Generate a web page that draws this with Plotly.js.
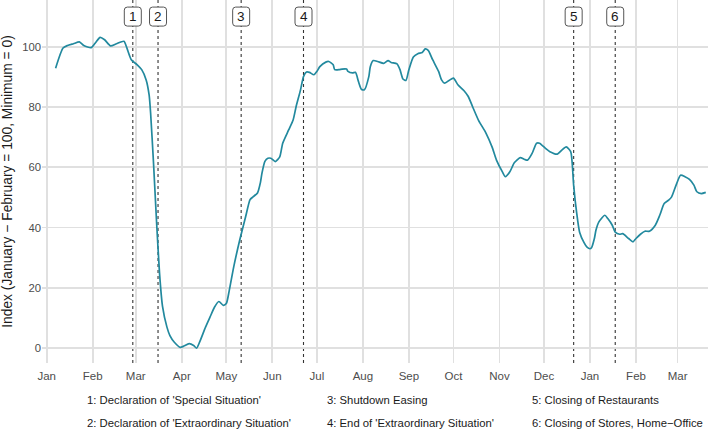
<!DOCTYPE html>
<html>
<head>
<meta charset="utf-8">
<script src="https://cdn.plot.ly/plotly-3.0.1.min.js"></script>
<style>
  html, body { margin: 0; padding: 0; background: #ffffff; }
  #chart { width: 708px; height: 429px; }
</style>
</head>
<body>
<div id="chart"></div>
<script>
// ---- Data ----
const dates = [
  '2020-01-07','2020-01-12','2020-01-15','2020-01-19','2020-01-23','2020-01-26','2020-01-31',
  '2020-02-03','2020-02-06','2020-02-09','2020-02-13','2020-02-17','2020-02-22','2020-02-24','2020-02-27',
  '2020-03-02','2020-03-05','2020-03-08','2020-03-10','2020-03-11','2020-03-13','2020-03-15','2020-03-17',
  '2020-03-19','2020-03-22','2020-03-24','2020-03-27','2020-03-31',
  '2020-04-02','2020-04-06','2020-04-09','2020-04-11','2020-04-13','2020-04-17','2020-04-20','2020-04-23',
  '2020-04-26','2020-04-29',
  '2020-05-01','2020-05-03','2020-05-06','2020-05-10','2020-05-14','2020-05-17','2020-05-19','2020-05-22',
  '2020-05-24','2020-05-25','2020-05-27','2020-05-29','2020-05-31',
  '2020-06-03','2020-06-06','2020-06-08','2020-06-12','2020-06-15','2020-06-17','2020-06-20','2020-06-22',
  '2020-06-24','2020-06-26','2020-06-29',
  '2020-07-01','2020-07-03','2020-07-07','2020-07-09','2020-07-12','2020-07-13','2020-07-16','2020-07-18',
  '2020-07-21','2020-07-22','2020-07-25','2020-07-27','2020-07-29','2020-07-31',
  '2020-08-02','2020-08-05','2020-08-06','2020-08-08','2020-08-11','2020-08-15','2020-08-18','2020-08-20',
  '2020-08-24','2020-08-26','2020-08-28','2020-08-30',
  '2020-09-01','2020-09-04','2020-09-07','2020-09-10','2020-09-12','2020-09-14','2020-09-17','2020-09-21',
  '2020-09-23','2020-09-25','2020-09-28',
  '2020-10-01','2020-10-04','2020-10-08','2020-10-11','2020-10-14','2020-10-18','2020-10-23','2020-10-27',
  '2020-10-30',
  '2020-11-03','2020-11-05','2020-11-08','2020-11-11','2020-11-15','2020-11-18','2020-11-20','2020-11-23',
  '2020-11-26','2020-11-28',
  '2020-12-02','2020-12-05','2020-12-10','2020-12-13','2020-12-16','2020-12-19','2020-12-20','2020-12-21',
  '2020-12-23','2020-12-25','2020-12-28','2020-12-30',
  '2021-01-01','2021-01-02','2021-01-04','2021-01-05','2021-01-07','2021-01-11','2021-01-13','2021-01-16',
  '2021-01-18','2021-01-21','2021-01-23','2021-01-27','2021-01-30',
  '2021-02-01','2021-02-04','2021-02-07','2021-02-10','2021-02-14','2021-02-17','2021-02-20','2021-02-23',
  '2021-02-25','2021-02-28',
  '2021-03-03','2021-03-06','2021-03-09','2021-03-12','2021-03-14','2021-03-17','2021-03-20'
];
const indexValues = [
  92.9, 99.6, 100.4, 101.0, 101.6, 100.4, 99.7,
  101.4, 103.1, 102.3, 100.3, 101.0, 101.8, 99.6, 95.7,
  94.0, 92.4, 89.0, 84.0, 78.0, 61.0, 42.0, 25.0,
  14.0, 7.0, 4.2, 2.0, 0.3,
  0.6, 1.5, 0.9, 0.0, 2.0, 7.0, 10.3, 13.6,
  15.5, 14.2,
  14.8, 19.2, 27.0, 35.8, 43.6, 49.3, 50.2, 51.5,
  55.0, 58.0, 62.0, 63.0, 63.0,
  61.9, 63.5, 68.0, 72.4, 75.7, 80.1, 85.7, 90.1,
  91.6, 91.5, 90.7,
  91.8, 93.4, 94.9, 95.1, 94.0, 92.4, 92.4, 92.6,
  92.6, 91.8, 91.3, 91.5, 88.5, 85.9,
  85.7, 90.1, 93.4, 95.4, 95.1, 94.5, 95.4, 94.8,
  94.3, 92.4, 89.3, 88.8,
  92.4, 96.6, 97.7, 98.1, 99.3, 98.8, 95.7, 91.8,
  89.0, 87.9, 88.8,
  89.6, 87.4, 85.5, 83.5, 80.0, 75.5, 71.3, 66.8,
  62.4,
  58.5, 56.9, 58.5, 61.5, 63.2, 62.6, 62.4, 64.6,
  68.0, 68.0,
  66.3, 65.2, 64.4, 65.7, 66.8, 65.2, 61.5, 54.0,
  45.0, 38.5, 35.0, 33.5,
  33.0, 33.3, 36.5, 39.1, 41.9, 44.1, 43.0, 40.8,
  38.5, 37.8, 38.0, 36.4, 35.3,
  36.4, 37.8, 38.8, 38.8, 40.8, 44.1, 48.0, 49.1,
  50.2, 54.1,
  57.4, 56.9, 56.0, 54.1, 51.9, 51.3, 51.7
];
const eventDates = ['2020-02-28','2020-03-16','2020-05-11','2020-06-22','2020-12-21','2021-01-18'];
const eventLabels = ['1','2','3','4','5','6'];
const eventDescriptions = [
  "1: Declaration of 'Special Situation'",
  "2: Declaration of 'Extraordinary Situation'",
  "3: Shutdown Easing",
  "4: End of 'Extraordinary Situation'",
  "5: Closing of Restaurants",
  "6: Closing of Stores, Home\u2212Office"
];
const labelLevel = 110;
const yTicks = [0, 20, 40, 60, 80, 100];
const yAxisTitle = 'Index (January \u2212 February = 100, Minimum = 0)';

// ---- Styling ----
const FONT = 'Liberation Sans, Arial, sans-serif';
const lineColor = '#22899e';
const gridColor = '#e0e0e0';

const trace = {
  x: dates, y: indexValues, type: 'scatter', mode: 'lines',
  line: { color: lineColor, width: 1.7, shape: 'spline', smoothing: 0.6 },
  hoverinfo: 'x+y', showlegend: false
};

// rounded label box outline (pixels, relative to the anchor point)
const boxPath = 'M -5.5,-9.5 L 5.5,-9.5 Q 8.5,-9.5 8.5,-6.5 L 8.5,6.5 Q 8.5,9.5 5.5,9.5 ' +
                'L -5.5,9.5 Q -8.5,9.5 -8.5,6.5 L -8.5,-6.5 Q -8.5,-9.5 -5.5,-9.5 Z';

const shapes = [];
eventDates.forEach(d => {
  shapes.push({
    type: 'line', xref: 'x', yref: 'paper', x0: d, x1: d, y0: 0, y1: 1,
    line: { color: '#333333', width: 1.1, dash: 'dot' }, layer: 'between'
  });
});
eventDates.forEach(d => {
  shapes.push({
    type: 'path', xref: 'x', yref: 'y', xsizemode: 'pixel', ysizemode: 'pixel',
    xanchor: d, yanchor: labelLevel, path: boxPath,
    fillcolor: '#ffffff', line: { color: '#555555', width: 1 }, layer: 'above'
  });
});

const annotations = eventDates.map((d, i) => ({
  x: d, y: labelLevel, xref: 'x', yref: 'y', text: eventLabels[i], showarrow: false,
  font: { family: FONT, size: 13.5, color: '#1a1a1a' },
  xanchor: 'center', yanchor: 'middle'
}));

// bottom legend text (3 columns x 2 rows)
const colX = [0.0646, 0.425, 0.733];
const rowY = [-0.102, -0.165];
eventDescriptions.forEach((t, i) => {
  annotations.push({
    xref: 'paper', yref: 'paper', x: colX[Math.floor(i / 2)], y: rowY[i % 2],
    xanchor: 'left', yanchor: 'middle', text: t, showarrow: false,
    font: { family: FONT, size: 11.3, color: '#1a1a1a' }
  });
});

const layout = {
  width: 708, height: 429,
  margin: { l: 42, r: 0, t: 0, b: 66 },
  paper_bgcolor: '#ffffff', plot_bgcolor: '#ffffff',
  font: { family: FONT, color: '#4d4d4d' },
  showlegend: false,
  xaxis: {
    type: 'date', range: ['2019-12-28 20:00', '2021-03-21 12:00'],
    tick0: '2020-01-01', dtick: 'M1', tickformat: '%b',
    showgrid: true, gridcolor: gridColor, gridwidth: 1.7,
    zeroline: false, showline: false,
    ticks: 'outside', ticklen: 2, tickcolor: 'rgba(0,0,0,0)',
    tickfont: { family: FONT, size: 11.5, color: '#4d4d4d' }
  },
  yaxis: {
    range: [-4.9, 115.5], tickvals: yTicks,
    showgrid: true, gridcolor: gridColor, gridwidth: 1.7,
    zeroline: false, showline: false,
    ticks: '', ticklabelstandoff: 0,
    tickfont: { family: FONT, size: 11.3, color: '#4d4d4d' },
    title: { text: yAxisTitle, font: { family: FONT, size: 13.8, color: '#1a1a1a' }, standoff: 6 }
  },
  shapes: shapes,
  annotations: annotations
};

Plotly.newPlot('chart', [trace], layout, { displayModeBar: false, staticPlot: true });
</script>
</body>
</html>
